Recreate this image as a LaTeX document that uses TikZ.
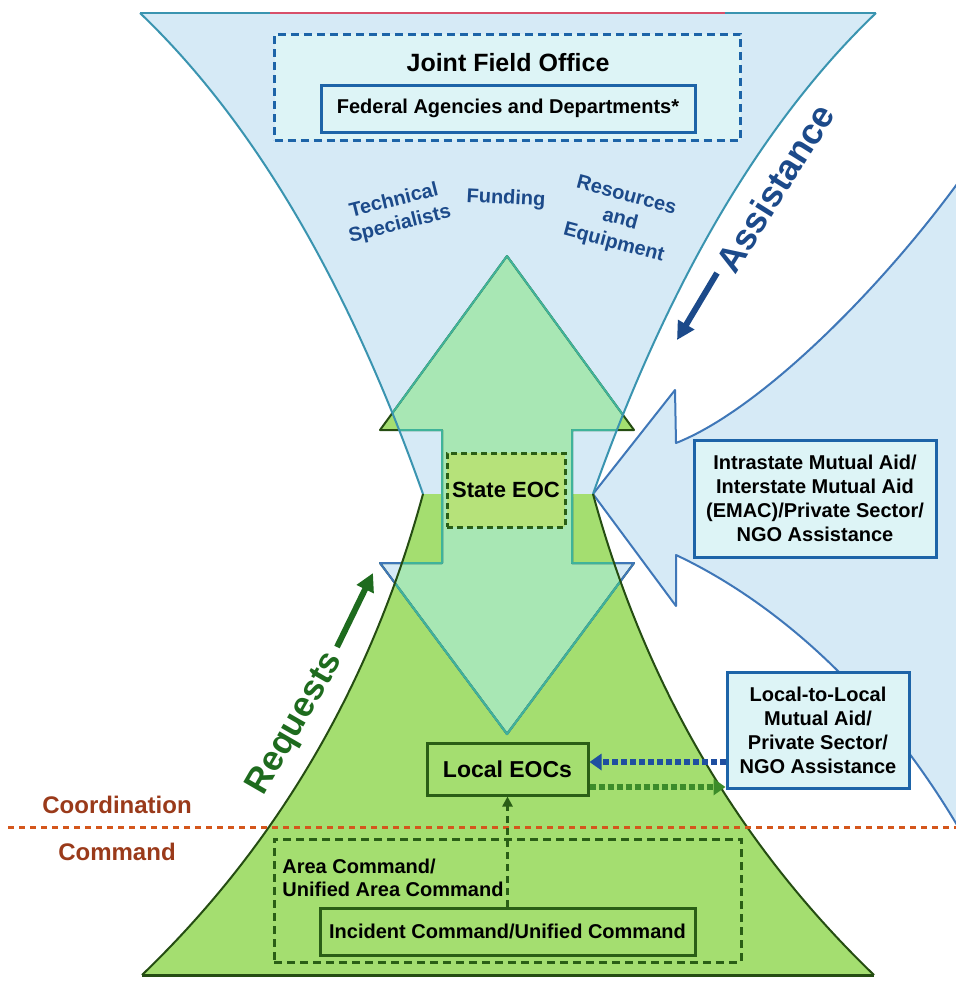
\documentclass[tikz,border=0pt]{standalone}
\usepackage{fontspec}
\setmainfont{Liberation Sans}
\usetikzlibrary{arrows.meta}
\definecolor{funnelc}{HTML}{D6EAF6}
\definecolor{pyrc}{HTML}{A4DE70}
\definecolor{mintc}{HTML}{A8E7B4}
\definecolor{boxc}{HTML}{DDF4F6}
\definecolor{statec}{HTML}{B6E27A}
\definecolor{blueb}{HTML}{1D64A8}
\definecolor{dblue}{HTML}{1C4A8A}
\definecolor{dgreen}{HTML}{2A5E16}
\definecolor{rgreen}{HTML}{1E6B1E}
\definecolor{brownc}{HTML}{9A3A1A}
\definecolor{dotc}{HTML}{D4561C}
\definecolor{tealc}{HTML}{3FB39A}
\definecolor{fedge}{HTML}{3A94B0}
\definecolor{redge}{HTML}{3F77B8}
\definecolor{pedge}{HTML}{254D12}
\definecolor{topred}{HTML}{D8506A}
\definecolor{arrowblue}{HTML}{1F4FA0}
\definecolor{arrowgreen}{HTML}{3C8C2A}
\def\funnelP{(140,13) -- (876,13) .. controls (763,121) and (668,282) .. (593,494) -- (423,494) .. controls (348,282) and (253,121) .. (140,13) -- cycle}
\def\pyrP{(142,975) .. controls (277,845) and (371,685) .. (423,494) -- (593,494) .. controls (645,685) and (739,845) .. (874,975) -- cycle}
\def\arrowP{(507,256) -- (634,430) -- (572,430) -- (572,563) -- (634,563) -- (507,734) -- (380,563) -- (442,563) -- (442,430) -- (380,430) -- cycle}
\def\upHeadP{(507,256) -- (634,430) -- (380,430) -- cycle}
\def\loHeadP{(380,563) -- (634,563) -- (507,734) -- cycle}
\def\rightP{(593,494) -- (675,390) -- (676,443) .. controls (760,410) and (880,290) .. (960,180) -- (960,830) .. controls (860,660) and (740,585) .. (676,555) -- (676,606) -- cycle}
\begin{document}
\begin{tikzpicture}[x=0.5pt,y=-0.5pt,
  edge/.style={line width=1pt, line join=round},
  bbox/.style={draw=blueb, line width=1.5pt, fill=boxc, inner sep=0pt, align=center, font=\bfseries\fontsize{10}{12}\selectfont},
  gbox/.style={draw=dgreen, line width=1.5pt, fill=pyrc, inner sep=0pt, align=center, font=\bfseries\fontsize{10}{12}\selectfont},
  gdashbox/.style={draw=dgreen, line width=1.5pt, dash pattern=on 4pt off 2.5pt, inner sep=0pt},
  bdashbox/.style={draw=blueb, line width=1.5pt, dash pattern=on 4pt off 2.5pt, inner sep=0pt, fill=boxc},
  bluelbl/.style={text=dblue, font=\bfseries\fontsize{10}{12.2}\selectfont, align=center, inner sep=0pt},
  brownlbl/.style={text=brownc, font=\bfseries\fontsize{12}{14}\selectfont, inner sep=0pt},
  thickarrow/.style={line width=3pt, -{Triangle[length=9pt,width=9pt]}},
  dotarrow/.style={line width=3pt, dash pattern=on 3pt off 1.5pt, -{Triangle[length=6pt,width=8pt]}},
]
\useasboundingbox (0,0) rectangle (956,981);
\clip (0,0) rectangle (956,981);
\fill[white] (0,0) rectangle (956,981);
% right big arrow
\fill[funnelc] \rightP;
\draw[redge, edge] \rightP;
% hourglass
\fill[funnelc] \funnelP;
\fill[pyrc] \pyrP;
% double arrow
\fill[pyrc] \upHeadP;
\fill[funnelc] \loHeadP;
\begin{scope}
  \clip \funnelP \pyrP;
  \fill[mintc] \arrowP;
\end{scope}
\draw[pedge, edge] \arrowP;
\begin{scope}
  \clip (0,497) rectangle (956,981);
  \draw[redge, edge] \arrowP;
\end{scope}
\begin{scope}
  \clip \funnelP \pyrP;
  \draw[tealc, edge] \arrowP;
\end{scope}
% edges
\draw[fedge, edge] (140,13) -- (876,13);
\draw[topred, edge] (270,13) -- (725,13);
\draw[fedge, edge] (140,13) .. controls (253,121) and (348,282) .. (423,494);
\draw[fedge, edge] (876,13) .. controls (763,121) and (668,282) .. (593,494);
\draw[pedge, edge] (142,975) .. controls (277,845) and (371,685) .. (423,494);
\draw[pedge, edge] (874,975) .. controls (739,845) and (645,685) .. (593,494);
\draw[pedge, line width=1.5pt] (142,975) -- (874,975);
% top
\node[bdashbox, minimum width=233pt, minimum height=53pt] (jfo) at (507.5,87) {};
\node[font=\bfseries\fontsize{12.5}{15}\selectfont, inner sep=0pt] (jfot) at (508,63) {Joint Field Office};
\node[bbox, minimum width=187pt, minimum height=23.5pt] (fed) at (508,108.5) {Federal Agencies and Departments*};
\node[bluelbl, rotate=14] (tech) at (397,213) {Technical\\Specialists};
\node[bluelbl, rotate=-3] (fund) at (506,199) {Funding};
\node[bluelbl, rotate=-15] (res) at (620,220) {Resources\\and\\Equipment};
\node[text=dblue, font=\bfseries\fontsize{18}{20}\selectfont, rotate=58, inner sep=0pt] (assist) at (775,188) {Assistance};
\coordinate (as1) at (717,273);
\coordinate (as2) at (677,340);
\draw[thickarrow, dblue] (as1) -- (as2);
% middle
\node[draw=dgreen, line width=1.5pt, dash pattern=on 3pt off 2pt, fill=statec, minimum width=59pt, minimum height=37pt, inner sep=0pt, font=\bfseries\fontsize{11}{13}\selectfont] (state) at (506,490) {State EOC};
\node[bbox, minimum width=121pt, minimum height=58.5pt] (intra) at (815,498.5) {Intrastate Mutual Aid/\\Interstate Mutual Aid\\(EMAC)/Private Sector/\\NGO Assistance};
\node[bbox, minimum width=91pt, minimum height=58pt] (local2) at (818,730) {Local-to-Local\\Mutual Aid/\\Private Sector/\\NGO Assistance};
\node[gbox, minimum width=80.5pt, minimum height=26pt, font=\bfseries\fontsize{11.5}{13}\selectfont] (leoc) at (507.5,769) {Local EOCs};
% bottom
\node[gdashbox, minimum width=233.5pt, minimum height=61.5pt] (area) at (507.5,900.5) {};
\node[anchor=west, align=left, inner sep=0pt, font=\bfseries\fontsize{10}{11.5}\selectfont] (areat) at (282,878) {Area Command/\\Unified Area Command};
\node[gbox, minimum width=187.5pt, minimum height=23.5pt] (inc) at (507.5,931.5) {Incident Command/Unified Command};
\node[text=rgreen, font=\bfseries\fontsize{17.5}{20}\selectfont, rotate=60, inner sep=0pt] (req) at (296,724) {Requests};
\coordinate (rq1) at (337,647);
\coordinate (rq2) at (373,573);
\draw[thickarrow, rgreen] (rq1) -- (rq2);
\node[brownlbl] (coord) at (117,805) {Coordination};
\node[brownlbl] (cmd) at (117,852) {Command};
\coordinate (dl1) at (8,827);
\coordinate (dl2) at (956,827);
\draw[dotc, line width=1.5pt, dash pattern=on 3pt off 2.5pt] (dl1) -- (dl2);
\draw[dotarrow, arrowblue] (local2.west |- 0,762) -- (leoc.east |- 0,762);
\draw[dotarrow, arrowgreen] (leoc.east |- 0,787) -- (local2.west |- 0,787);
\draw[dgreen, line width=1.5pt, dash pattern=on 3.5pt off 2.5pt, -{Triangle[length=5pt,width=5pt]}] (inc.north) -- (leoc.south);
\end{tikzpicture}
\end{document}
